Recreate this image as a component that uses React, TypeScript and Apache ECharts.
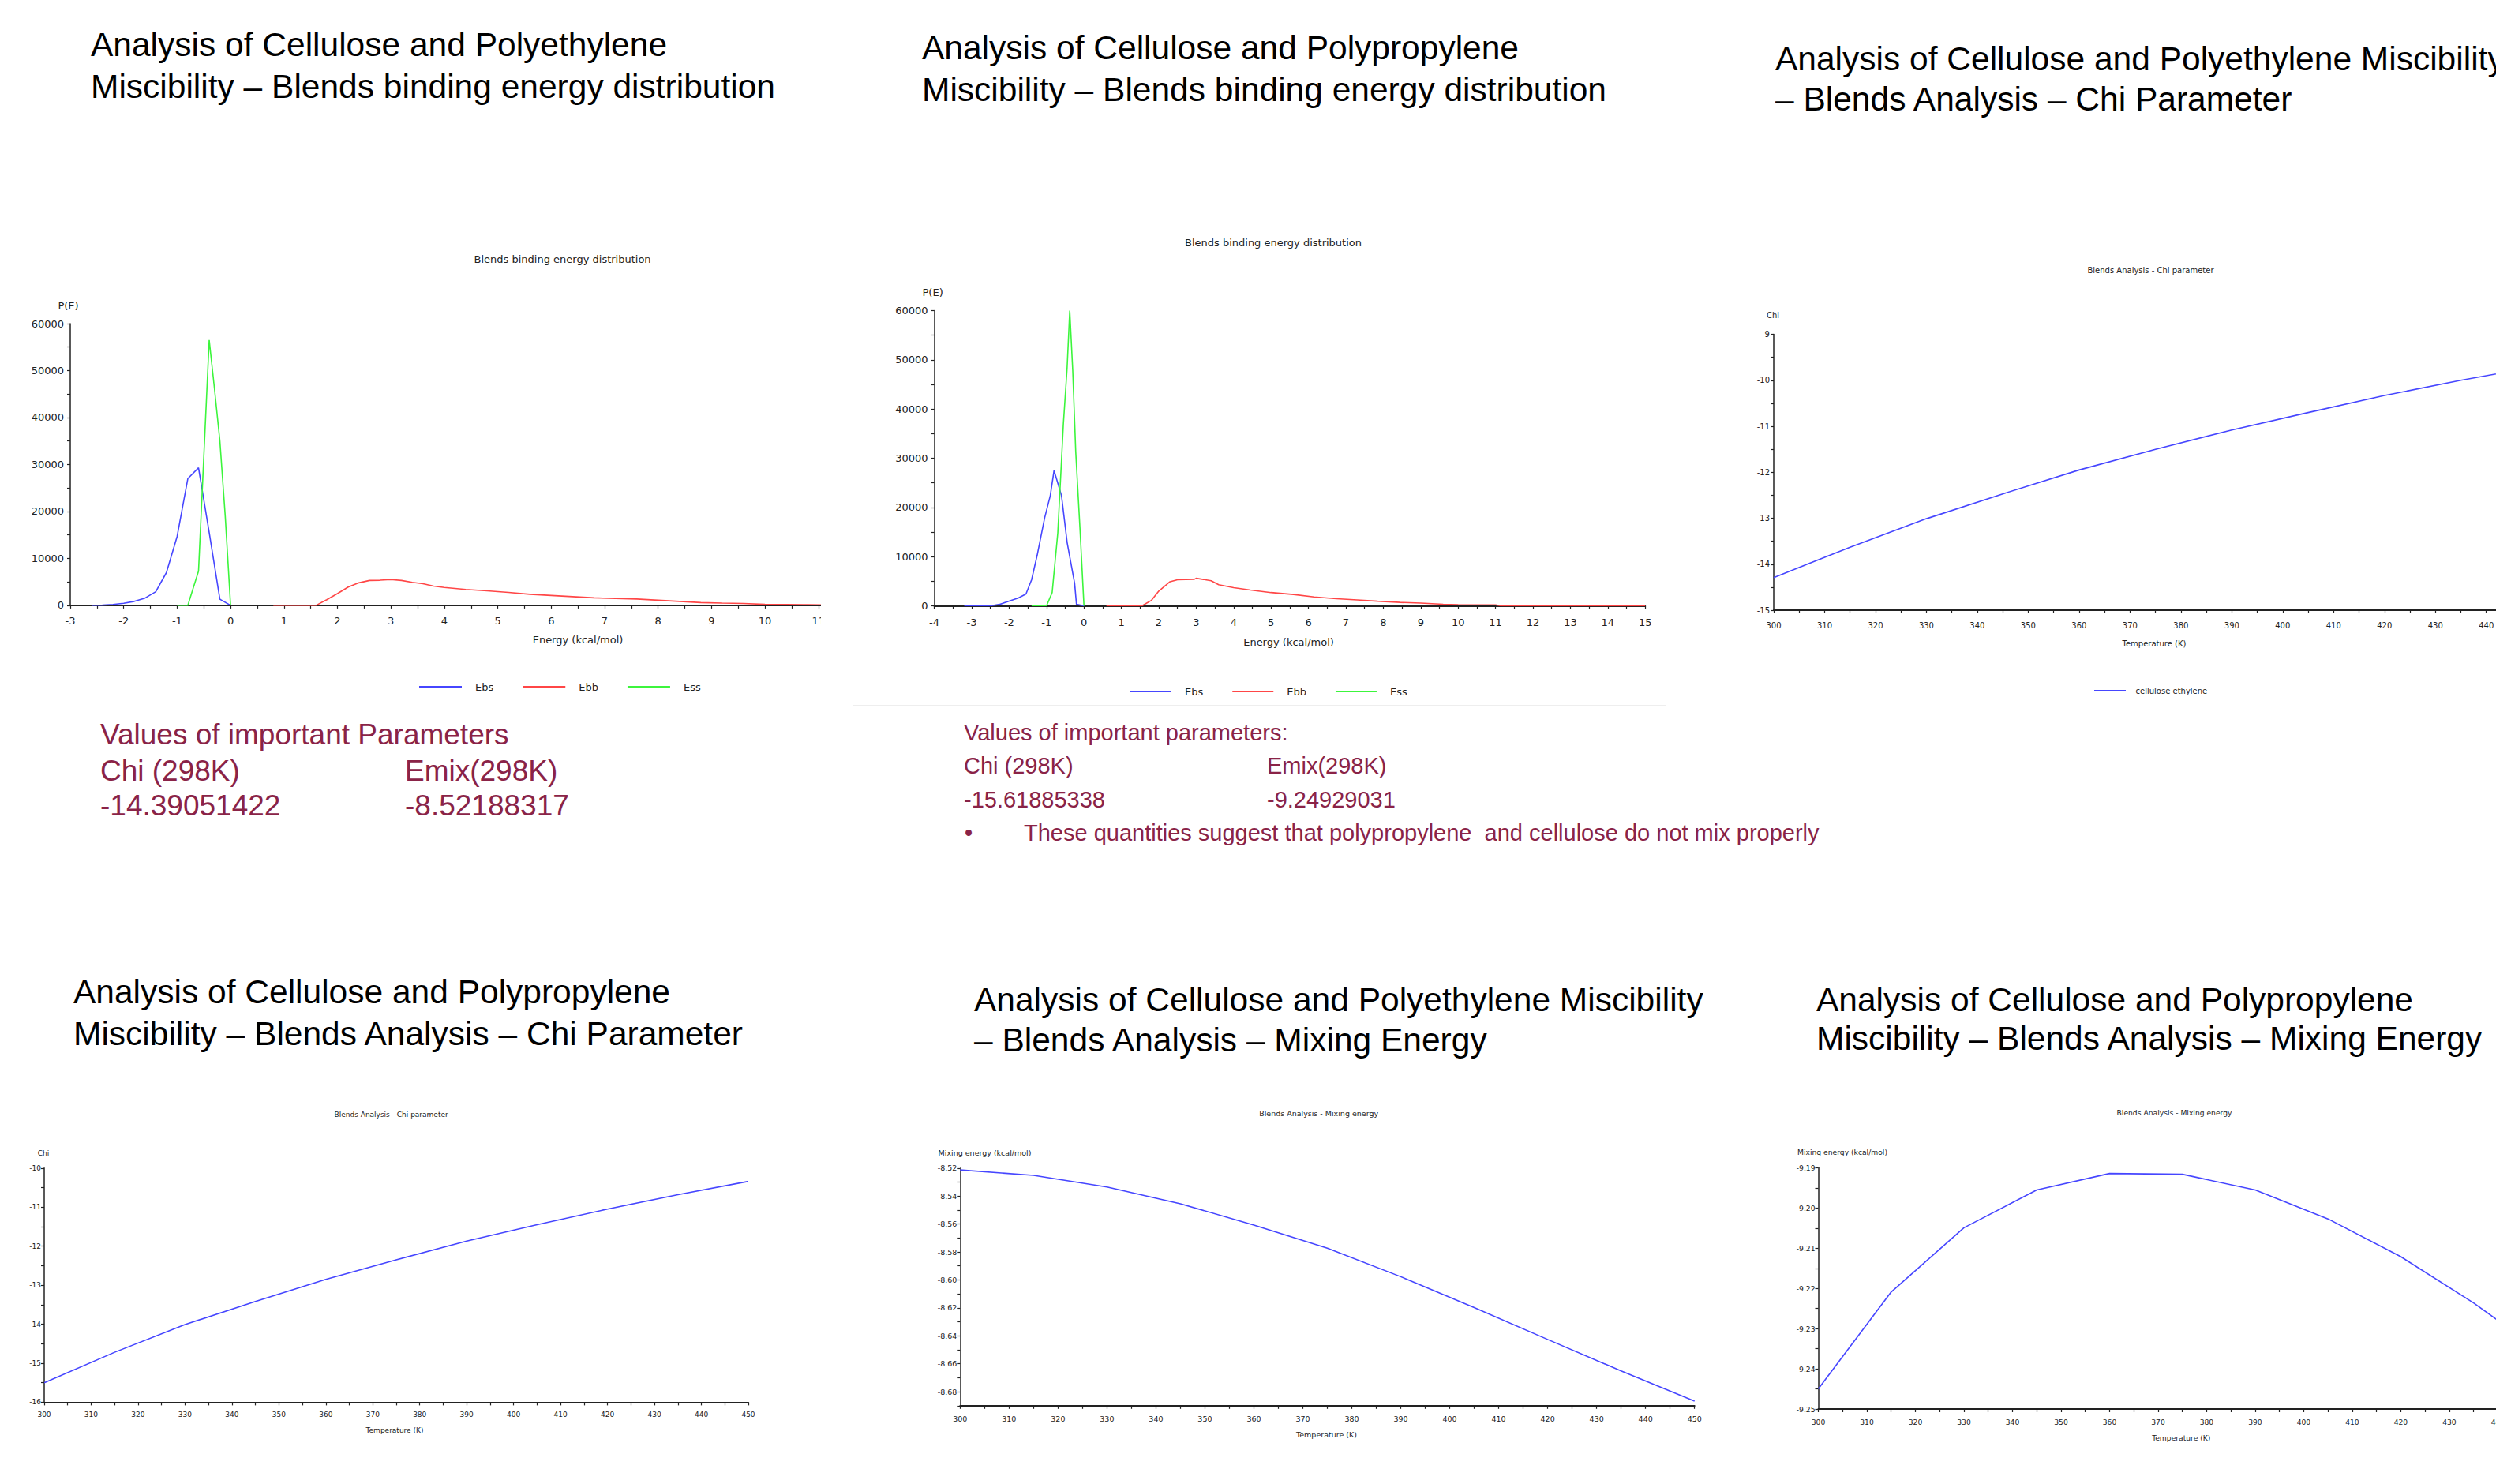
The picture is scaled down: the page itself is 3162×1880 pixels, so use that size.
import React, { useEffect, useRef } from "react";
import * as echarts from "echarts";

const SMALL_FONT = "'DejaVu Sans', Verdana, sans-serif";
const BIG_FONT = "'Liberation Sans', Arial, sans-serif";
const BLUE = "#4646ff";
const RED = "#ff4646";
const GREEN = "#3cf53c";
const MAROON = "#8a2347";
const INK = "#222222";

// ---- Chart A: cellulose / polyethylene binding energy distribution ----
const peEbsEnergy = [-2.6, -2.4, -2.2, -2.0, -1.8, -1.6, -1.4, -1.2, -1.0, -0.8, -0.6, -0.4, -0.2, 0];
const peEbsProb = [0, 50, 200, 450, 850, 1550, 2900, 7000, 14700, 27000, 29300, 15500, 1300, 0];
const peEssEnergy = [-1.0, -0.8, -0.6, -0.4, -0.3, -0.2, -0.1, 0];
const peEssProb = [0, 0, 7300, 56500, 46000, 35000, 19000, 0];
const peEbbEnergy = [0.8, 1.6, 1.8, 2.0, 2.2, 2.4, 2.6, 2.8, 3.0, 3.2, 3.4, 3.6, 3.8, 4.0, 4.4, 4.8, 5.2, 5.6, 6.0, 6.4, 6.8, 7.2, 7.6, 8.0, 8.4, 8.8, 9.2, 9.6, 10.0, 10.4, 10.8, 11.2, 11.6, 16];
const peEbbProb = [0, 0, 1200, 2500, 3900, 4800, 5300, 5350, 5500, 5300, 4900, 4600, 4100, 3800, 3400, 3100, 2750, 2350, 2100, 1850, 1600, 1450, 1350, 1100, 850, 600, 480, 400, 220, 180, 150, 100, 0, 0];

// ---- Chart B: cellulose / polypropylene binding energy distribution ----
const ppEbsEnergy = [-3.2, -2.5, -2.25, -2.0, -1.75, -1.55, -1.4, -1.25, -1.05, -0.9, -0.8, -0.6, -0.45, -0.25, -0.2, 0];
const ppEbsProb = [0, 0, 300, 950, 1600, 2400, 5300, 10300, 17900, 22400, 27500, 22400, 12900, 4600, 300, 0];
const ppEssEnergy = [-1.4, -1.0, -0.85, -0.7, -0.55, -0.45, -0.38, -0.3, -0.22, -0.1, 0];
const ppEssProb = [0, 0, 2700, 14800, 37000, 48400, 60000, 47800, 31300, 14800, 0];
const ppEbbEnergy = [0.6, 1.55, 1.8, 2.0, 2.3, 2.5, 2.95, 3.0, 3.4, 3.6, 4.0, 4.45, 5.0, 5.6, 6.15, 6.75, 7.3, 7.85, 8.45, 9.0, 9.6, 10.0, 11.0, 11.15, 15];
const ppEbbProb = [0, 0, 1100, 3000, 4900, 5300, 5400, 5600, 5100, 4300, 3700, 3200, 2700, 2300, 1800, 1450, 1200, 950, 700, 570, 320, 250, 190, 0, 0];

// ---- Temperature sweeps ----
const temps = [300, 315, 330, 345, 360, 375, 390, 405, 420, 435, 450];
const chiPE = [-14.29, -13.63, -13.01, -12.47, -11.95, -11.5, -11.08, -10.7, -10.33, -10.0, -9.7];
const chiPP = [-15.5, -14.72, -14.01, -13.42, -12.85, -12.35, -11.87, -11.45, -11.05, -10.68, -10.34];
const emixPE = [-8.5213, -8.5252, -8.5335, -8.5455, -8.5608, -8.5773, -8.5977, -8.6198, -8.6426, -8.6651, -8.6867];
const emixPP = [-9.245, -9.2209, -9.2049, -9.1955, -9.1914, -9.1916, -9.1955, -9.2027, -9.2121, -9.2236, -9.2366];

const distLegend = ["Ebs", "Ebb", "Ess"];

function txt(x: number, y: number, text: string, size: number, opt: any = {}) {
  const align = opt.align || "center";
  return {
    type: "text",
    x,
    y,
    silent: true,
    z: 10,
    style: {
      text,
      fill: opt.color || INK,
      font: `${size}px ${opt.family || SMALL_FONT}`,
      textAlign: align,
      textVerticalAlign: "middle",
      align,
      verticalAlign: "middle",
    },
  };
}

function axis(fs: number, margin: number, extra: any) {
  return {
    type: "value",
    splitLine: { show: false },
    minorSplitLine: { show: false },
    axisLine: { show: true, onZero: false, lineStyle: { color: INK, width: 1.5 } },
    axisTick: { show: true, length: 4, lineStyle: { color: INK, width: 1.2 } },
    minorTick: { show: true, splitNumber: 2, length: 4, lineStyle: { color: INK, width: 1.2 } },
    axisLabel: {
      fontSize: fs,
      fontFamily: SMALL_FONT,
      color: INK,
      margin,
      formatter: (v: number) => String(v),
    },
    ...extra,
  };
}

function line(name: string, color: string, xs: number[], ys: number[], width = 1.6) {
  return {
    type: "line",
    name,
    color,
    data: xs.map((x, i) => [x, ys[i]]),
    symbol: "none",
    showSymbol: false,
    silent: true,
    lineStyle: { width, color },
    emphasis: { disabled: true },
  };
}

function legendAt(left: number, cy: number, fs: number, iw: number, pad: number, gap: number, data: string[]) {
  return {
    left,
    top: cy - fs / 2,
    padding: 0,
    orient: "horizontal",
    icon: "rect",
    itemWidth: iw,
    itemHeight: 2,
    itemGap: gap,
    selectedMode: false,
    data,
    textStyle: { fontSize: fs, fontFamily: SMALL_FONT, color: INK, padding: [0, 0, 0, pad] },
  };
}

const xLine = { show: true, onZero: false, lineStyle: { color: INK, width: 2 } };

const optA = {
  animation: false,
  grid: { left: 89, top: 130, width: 1286.3, height: 356.9 },
  xAxis: axis(13, 13.5, { min: -3, max: 16, interval: 1, axisLine: xLine }),
  yAxis: axis(13, 8, { min: 0, max: 60000, interval: 10000 }),
  legend: legendAt(531, 590, 13, 54, 12, 37, distLegend),
  series: [
    line("Ebs", BLUE, peEbsEnergy, peEbsProb),
    line("Ebb", RED, peEbbEnergy, peEbbProb),
    line("Ess", GREEN, peEssEnergy, peEssProb),
  ],
  graphic: [
    txt(712.6, 48, "Blends binding energy distribution", 13),
    txt(86.5, 107, "P(E)", 13),
    txt(732, 530, "Energy (kcal/mol)", 13),
  ],
};

const optB = {
  animation: false,
  grid: { left: 123.6, top: 113.5, width: 900.6, height: 374 },
  xAxis: axis(13, 14, { min: -4, max: 15, interval: 1, axisLine: xLine }),
  yAxis: axis(13, 8, { min: 0, max: 60000, interval: 10000 }),
  legend: legendAt(372, 596, 13, 52, 12, 37, distLegend),
  series: [
    line("Ebs", BLUE, ppEbsEnergy, ppEbsProb),
    line("Ebb", RED, ppEbbEnergy, ppEbbProb),
    line("Ess", GREEN, ppEssEnergy, ppEssProb),
  ],
  graphic: [
    txt(553, 27.7, "Blends binding energy distribution", 13),
    txt(121.6, 90, "P(E)", 13),
    txt(572.5, 533, "Energy (kcal/mol)", 13),
  ],
};

const optC = {
  animation: false,
  grid: { left: 47, top: 103.6, width: 967.2, height: 349.4 },
  xAxis: axis(10, 14.5, { min: 300, max: 450, interval: 10, axisLine: xLine }),
  yAxis: axis(10, 5, { min: -15, max: -9, interval: 1 }),
  legend: legendAt(453, 555, 10, 40, 7.5, 20, ["cellulose ethylene"]),
  series: [line("cellulose ethylene", BLUE, temps, chiPE)],
  graphic: [
    txt(524.5, 22, "Blends Analysis - Chi parameter", 10),
    txt(46, 79.5, "Chi", 10),
    txt(529, 495.7, "Temperature (K)", 10),
  ],
};

const optD = {
  animation: false,
  grid: { left: 56, top: 99.8, width: 892, height: 296.6 },
  xAxis: axis(9, 11.5, { min: 300, max: 450, interval: 10, axisLine: xLine }),
  yAxis: axis(9, 4, { min: -16, max: -10, interval: 1 }),
  series: [line("cellulose propylene", BLUE, temps, chiPP)],
  graphic: [
    txt(495.6, 32, "Blends Analysis - Chi parameter", 9),
    txt(55, 81, "Chi", 9),
    txt(500, 432, "Temperature (K)", 9),
  ],
};

const optE = {
  animation: false,
  grid: { left: 116.3, top: 99.8, width: 930.4, height: 301 },
  xAxis: axis(9.5, 12, { min: 300, max: 450, interval: 10, axisLine: xLine }),
  yAxis: axis(9.5, 4, {
    min: -8.69,
    max: -8.52,
    interval: 0.01,
    minorTick: { show: false },
    axisLabel: {
      fontSize: 9.5,
      fontFamily: SMALL_FONT,
      color: INK,
      margin: 4,
      formatter: (v: number) => {
        const k = Math.round(v * 100);
        return k % 2 === 0 ? (k / 100).toFixed(2) : "";
      },
    },
  }),
  series: [line("cellulose ethylene mixing", BLUE, temps, emixPE)],
  graphic: [
    txt(570.6, 30, "Blends Analysis - Mixing energy", 9.5),
    txt(147.5, 80, "Mixing energy (kcal/mol)", 9.5),
    txt(580.5, 437.5, "Temperature (K)", 9.5),
  ],
};

const optF = {
  animation: false,
  grid: { left: 63.5, top: 99.5, width: 922.4, height: 305.5 },
  xAxis: axis(9.2, 12, { min: 300, max: 450, interval: 10, axisLine: xLine }),
  yAxis: axis(9.2, 4, {
    min: -9.25,
    max: -9.19,
    interval: 0.01,
    axisLabel: {
      fontSize: 9.2,
      fontFamily: SMALL_FONT,
      color: INK,
      margin: 4,
      formatter: (v: number) => v.toFixed(2),
    },
  }),
  series: [line("cellulose propylene mixing", BLUE, temps, emixPP)],
  graphic: [
    txt(514.5, 29.3, "Blends Analysis - Mixing energy", 9.2),
    txt(94, 79.7, "Mixing energy (kcal/mol)", 9.2),
    txt(523.3, 441.6, "Temperature (K)", 9.2),
  ],
};

const TS = 42.5;
const big = (x: number, y: number, t: string) => txt(x, y, t, TS, { align: "left", family: BIG_FONT, color: "#000" });
const red = (x: number, y: number, t: string, s: number) => txt(x, y, t, s, { align: "left", family: BIG_FONT, color: MAROON });

const optPage = {
  animation: false,
  backgroundColor: "#ffffff",
  graphic: [
    big(115, 56.5, "Analysis of Cellulose and Polyethylene"),
    big(115, 109, "Miscibility \u2013 Blends binding energy distribution"),
    big(1168, 60.5, "Analysis of Cellulose and Polypropylene"),
    big(1168, 113, "Miscibility \u2013 Blends binding energy distribution"),
    big(2249, 74.6, "Analysis of Cellulose and Polyethylene Miscibility"),
    big(2249, 125, "\u2013 Blends Analysis \u2013 Chi Parameter"),
    big(93, 1256.6, "Analysis of Cellulose and Polypropylene"),
    big(93, 1309, "Miscibility \u2013 Blends Analysis \u2013 Chi Parameter"),
    big(1234, 1266.7, "Analysis of Cellulose and Polyethylene Miscibility"),
    big(1234, 1317, "\u2013 Blends Analysis \u2013 Mixing Energy"),
    big(2301, 1266.7, "Analysis of Cellulose and Polypropylene"),
    big(2301, 1315, "Miscibility \u2013 Blends Analysis \u2013 Mixing Energy"),
    red(127, 930, "Values of important Parameters", 37),
    red(127, 976, "Chi (298K)", 37),
    red(513, 976, "Emix(298K)", 37),
    red(127, 1020.6, "-14.39051422", 37),
    red(513, 1020.6, "-8.52188317", 37),
    red(1221, 928, "Values of important parameters:", 29),
    red(1221, 970, "Chi (298K)", 29),
    red(1605, 970, "Emix(298K)", 29),
    red(1221, 1012.5, "-15.61885338", 29),
    red(1605, 1012.5, "-9.24929031", 29),
    red(1222, 1055, "\u2022", 29),
    red(1297, 1055, "These quantities suggest that polypropylene  and cellulose do not mix properly", 29),
    {
      type: "line",
      silent: true,
      shape: { x1: 1080, y1: 894, x2: 2110, y2: 894 },
      style: { stroke: "#eeeeee", lineWidth: 2 },
    },
  ],
};

// box: visible (clipped) area on the page; innerWidth: full drawing width of the chart
type Box = { left: number; top: number; width: number; height: number; innerWidth?: number };

function EChart({ box, option }: { box: Box; option: any }) {
  const ref = useRef<HTMLDivElement>(null);
  useEffect(() => {
    if (!ref.current) return;
    const chart = echarts.init(ref.current, null, { renderer: "svg" });
    chart.setOption(option);
    return () => chart.dispose();
  }, [option]);
  return (
    <div
      style={{
        position: "absolute",
        left: box.left,
        top: box.top,
        width: box.width,
        height: box.height,
        overflow: "hidden",
      }}
    >
      <div ref={ref} style={{ width: box.innerWidth || box.width, height: box.height }} />
    </div>
  );
}

export default function App() {
  useEffect(() => {
    document.body.style.margin = "0";
    document.body.style.overflow = "hidden";
  }, []);
  return (
    <div style={{ position: "absolute", left: 0, top: 0, width: 3162, height: 1880, overflow: "hidden", background: "#fff" }}>
      <EChart box={{ left: 0, top: 0, width: 3162, height: 1880 }} option={optPage} />
      <EChart box={{ left: 0, top: 280, width: 1040, height: 620, innerWidth: 1420 }} option={optA} />
      <EChart box={{ left: 1060, top: 280, width: 1100, height: 620 }} option={optB} />
      <EChart box={{ left: 2200, top: 320, width: 962, height: 580, innerWidth: 1080 }} option={optC} />
      <EChart box={{ left: 0, top: 1380, width: 1060, height: 500 }} option={optD} />
      <EChart box={{ left: 1100, top: 1380, width: 1100, height: 500 }} option={optE} />
      <EChart box={{ left: 2240, top: 1380, width: 922, height: 500, innerWidth: 1040 }} option={optF} />
    </div>
  );
}
